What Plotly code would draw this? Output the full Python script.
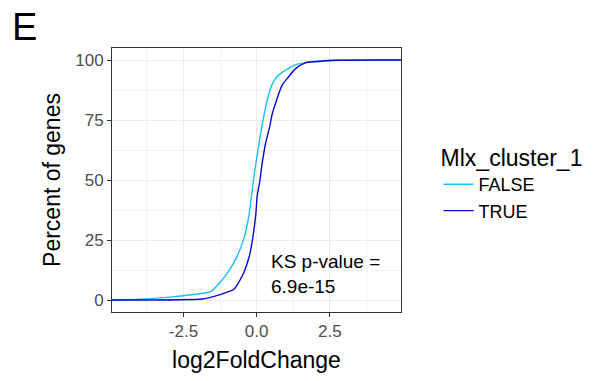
import plotly.graph_objects as go

# ECDF values (percent of genes)
false_x = [-5.5, -4.0, -2.97, -1.95, -1.57, -1.28, -0.94, -0.66, -0.43, -0.26, -0.09,
           0.08, 0.19, 0.31, 0.47, 0.60, 0.78, 1.09, 1.32, 1.77, 2.5, 5.5]
false_y = [0, 0.3, 1.2, 2.6, 3.5, 6.9, 12.3, 18.4, 25.9, 35.5, 51.6,
           65.2, 73, 80.5, 88, 91.5, 94, 96.5, 98.0, 99.1, 99.9, 100]

true_x = [-5.5, -1.84, -1.45, -1.05, -0.77, -0.60, -0.43, -0.26, -0.15, -0.03, 0.02,
          0.10, 0.19, 0.30, 0.44, 0.53, 0.70, 0.87, 1.09, 1.32, 1.66, 2.0, 2.8, 5.5]
true_y = [0, 0.4, 1.5, 3.1, 4.5, 7.6, 11.7, 17.8, 24.5, 35.5, 43.5,
          49, 57, 65, 72, 77.4, 84, 89.5, 93, 96.3, 98.8, 99.3, 99.9, 100]

x_ticks = [-2.5, 0.0, 2.5]
x_ticklabels = ["-2.5", "0.0", "2.5"]
x_minor = [-3.75, -1.25, 1.25, 3.75]
y_ticks = [0, 25, 50, 75, 100]
y_ticklabels = ["0", "25", "50", "75", "100"]
y_minor = [12.5, 37.5, 62.5, 87.5]

FONT = "Liberation Sans, Arial, sans-serif"

fig = go.Figure()
fig.add_trace(go.Scatter(x=false_x, y=false_y, mode="lines", name="FALSE",
                         line=dict(color="#1EBEFA", width=1.4, shape="spline", smoothing=0.6)))
fig.add_trace(go.Scatter(x=true_x, y=true_y, mode="lines", name="TRUE",
                         line=dict(color="#0A0ACD", width=1.4, shape="spline", smoothing=0.6)))

axis_common = dict(
    showline=True, mirror=True, linecolor="#333333", linewidth=1,
    ticks="outside", ticklen=4, tickcolor="#333333", tickwidth=1,
    showgrid=True, gridcolor="#EBEBEB", gridwidth=1.1, zeroline=False,
    tickfont=dict(family=FONT, size=17, color="#4D4D4D"),
)

fig.update_xaxes(
    range=[-4.94, 4.93], tickmode="array", tickvals=x_ticks, ticktext=x_ticklabels,
    minor=dict(tickmode="array", tickvals=x_minor, showgrid=True,
               gridcolor="#F2F2F2", gridwidth=0.6, ticks=""),
    title=dict(text="log2FoldChange", font=dict(family=FONT, size=23, color="black"),
               standoff=11),
    **axis_common,
)
fig.update_yaxes(
    range=[-5, 105], tickmode="array", tickvals=y_ticks, ticktext=y_ticklabels,
    minor=dict(tickmode="array", tickvals=y_minor, showgrid=True,
               gridcolor="#F2F2F2", gridwidth=0.6, ticks=""),
    title=dict(text="Percent of genes", font=dict(family=FONT, size=23, color="black"),
               standoff=8),
    **axis_common,
)

fig.add_annotation(x=0.41, y=11, xref="x", yref="y", xanchor="left", yanchor="middle",
                   text="KS p-value =<br>6.9e-15", align="left", showarrow=False,
                   font=dict(family=FONT, size=19, color="black"))

fig.add_annotation(x=-0.354, y=1.08, xref="paper", yref="paper", xanchor="left",
                   yanchor="middle", text="E", showarrow=False,
                   font=dict(family=FONT, size=38, color="black"))

fig.update_layout(
    width=597, height=381,
    margin=dict(l=112, r=194, t=48, b=63),
    paper_bgcolor="white", plot_bgcolor="white",
    showlegend=True,
    legend=dict(
        title=dict(text="Mlx_cluster_1", font=dict(family=FONT, size=23, color="black")),
        font=dict(family=FONT, size=18, color="black"),
        x=1.13, xanchor="left", y=0.49, yanchor="middle",
        bgcolor="rgba(0,0,0,0)", borderwidth=0, tracegroupgap=0,
    ),
)

fig.write_html("out.html", config={"displayModeBar": False},
               post_script="document.body.style.margin='0px';")
